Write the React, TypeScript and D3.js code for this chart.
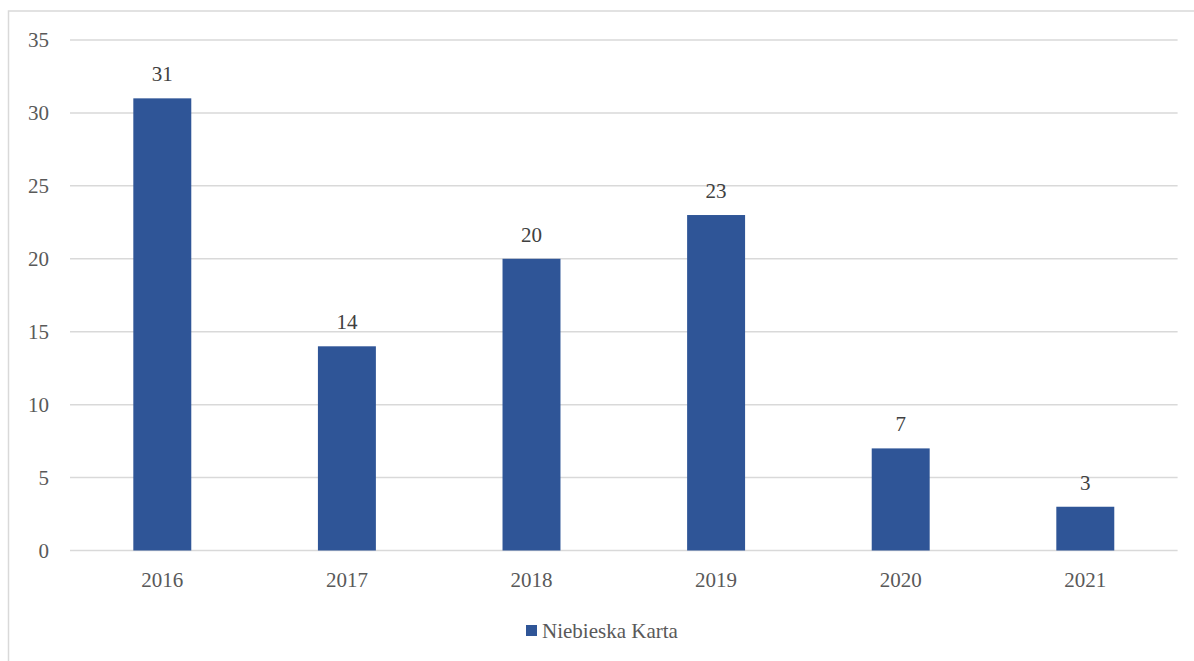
import React from "react";
import * as d3 from "d3";

const years = ["2016", "2017", "2018", "2019", "2020", "2021"];
const values = [31, 14, 20, 23, 7, 3];
const yTicks = [0, 5, 10, 15, 20, 25, 30, 35];
const seriesName = "Niebieska Karta";

export default function App() {
  const W = 1194, H = 661;
  const left = 70, right = 1177.6, top = 40, bottom = 550.5;
  const x = d3.scaleBand<string>().domain(years).range([left, right]).paddingInner(0.686).paddingOuter(0.343);
  const y = d3.scaleLinear().domain([0, 35]).range([bottom, top]);
  const font = "Liberation Serif, DejaVu Serif, serif";
  const barColor = "#2F5597";
  return (
    <svg width={W} height={H} style={{ position: "absolute", left: 0, top: 0, fontFamily: font }}>
      <rect x={0} y={0} width={W} height={H} fill="#fff" />
      <rect x={8.5} y={11} width={1200} height={700} fill="none" stroke="#d9d9d9" strokeWidth={1.5} />
      {yTicks.map((t) => (
        <g key={t}>
          <line x1={left} x2={right} y1={y(t)} y2={y(t)} stroke="#d9d9d9" strokeWidth={1.5} />
          <text x={49} y={y(t) + 7} textAnchor="end" style={{ fontFamily: font }} fontSize={21} fill="#595959">{t}</text>
        </g>
      ))}
      {years.map((yr, i) => (
        <g key={yr}>
          <rect x={x(yr)} y={y(values[i])} width={x.bandwidth()} height={y(0) - y(values[i])} fill={barColor} />
          <text x={x(yr)! + x.bandwidth() / 2} y={y(values[i]) - 17} textAnchor="middle" style={{ fontFamily: font }} fontSize={21} fill="#404040">{values[i]}</text>
          <text x={x(yr)! + x.bandwidth() / 2} y={587} textAnchor="middle" style={{ fontFamily: font }} fontSize={21} fill="#595959">{yr}</text>
        </g>
      ))}
      <rect x={526} y={625} width={11} height={11} fill={barColor} />
      <text x={542} y={638} style={{ fontFamily: font }} fontSize={21} fill="#595959">{seriesName}</text>
    </svg>
  );
}
